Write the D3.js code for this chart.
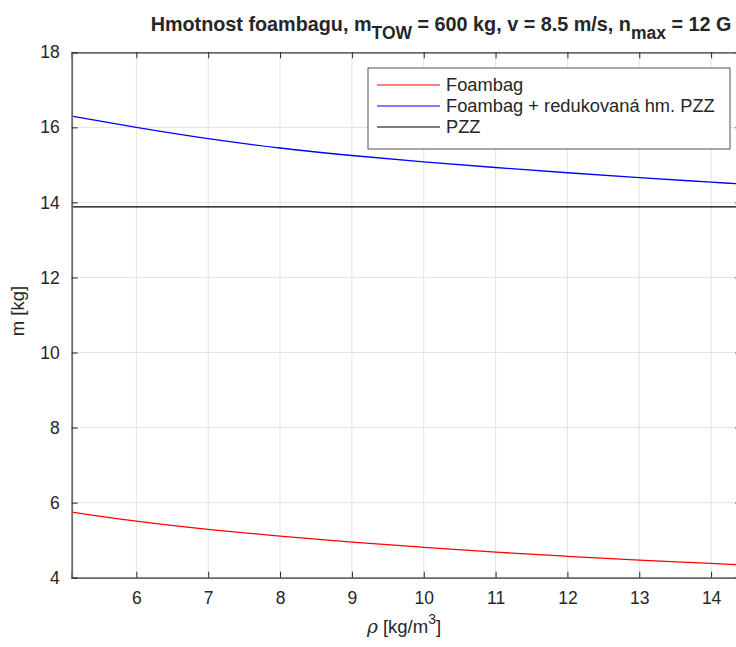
<!DOCTYPE html>
<html lang="en">
<head>
  <meta charset="UTF-8">
  <title>Hmotnost foambagu</title>
  <style>
    body {
      margin: 0;
      background: #fff;
      font-family: "Liberation Sans", Arial, sans-serif;
    }
    svg text {
      fill: #262626;
    }
  </style>
</head>
<body>
  <div id="chart"></div>

  <script src="https://d3js.org/d3.v7.min.js"></script>
  <script>
    // values
    const rho = [5.1, 6, 7, 8, 9, 10, 11, 12, 13, 14, 14.42];
    const foambag = [5.75, 5.51, 5.29, 5.11, 4.95, 4.81, 4.68, 4.57, 4.47, 4.38, 4.34];
    const foambagPzz = [16.30, 16.00, 15.70, 15.45, 15.25, 15.08, 14.93, 14.79, 14.66, 14.54, 14.49];
    const pzz = [13.88, 13.88, 13.88, 13.88, 13.88, 13.88, 13.88, 13.88, 13.88, 13.88, 13.88];
    const xTicks = [6, 7, 8, 9, 10, 11, 12, 13, 14];
    const yTicks = [4, 6, 8, 10, 12, 14, 16, 18];
    const legendNames = ["Foambag", "Foambag + redukovaná hm. PZZ", "PZZ"];
    const seriesColors = ["#ff0000", "#0000ff", "#000000"];

    const width = 736, height = 647;
    const plotLeft = 71.7, plotRight = 741.3, plotTop = 52.3, plotBottom = 577.7;

    const svg = d3.select("#chart").append("svg")
      .attr("width", width)
      .attr("height", height);

    const x = d3.scaleLinear().domain([5.1, 14.42]).range([plotLeft, plotRight]);
    const y = d3.scaleLinear().domain([4, 18]).range([plotBottom, plotTop]);

    // grid
    svg.append("g")
      .selectAll("line")
      .data(xTicks)
      .enter().append("line")
      .attr("x1", d => x(d)).attr("x2", d => x(d))
      .attr("y1", plotTop).attr("y2", plotBottom)
      .attr("stroke", "#e3e3e3");

    svg.append("g")
      .selectAll("line")
      .data(yTicks)
      .enter().append("line")
      .attr("x1", plotLeft).attr("x2", plotRight)
      .attr("y1", d => y(d)).attr("y2", d => y(d))
      .attr("stroke", "#e3e3e3");

    // series
    const series = [foambag, foambagPzz, pzz];
    const line = d3.line()
      .x((d, i) => x(rho[i]))
      .y(d => y(d))
      .curve(d3.curveMonotoneX);

    series.forEach((s, k) => {
      svg.append("path")
        .datum(s)
        .attr("d", line)
        .attr("fill", "none")
        .attr("stroke", seriesColors[k])
        .attr("stroke-width", 1.3);
    });

    // axes (ticks point inward like MATLAB)
    const axisColor = "#6b6b6b";
    const xAxis = svg.append("g")
      .attr("transform", `translate(0, ${plotBottom})`)
      .call(d3.axisBottom(x).tickValues(xTicks).tickSize(-6).tickPadding(14));
    const xTop = svg.append("g")
      .attr("transform", `translate(0, ${plotTop})`)
      .call(d3.axisTop(x).tickValues(xTicks).tickSize(-6).tickFormat(""));
    const yAxis = svg.append("g")
      .attr("transform", `translate(${plotLeft}, 0)`)
      .call(d3.axisLeft(y).tickValues(yTicks).tickSize(-6).tickPadding(12));
    const yRight = svg.append("g")
      .attr("transform", `translate(${plotRight}, 0)`)
      .call(d3.axisRight(y).tickValues(yTicks).tickSize(-6).tickFormat(""));

    [xAxis, xTop, yAxis, yRight].forEach(g => {
      g.select(".domain").attr("stroke", axisColor).attr("stroke-width", 1.8);
      g.selectAll(".tick line").attr("stroke", "#262626").attr("stroke-width", 1);
      g.selectAll(".tick text")
        .attr("font-family", "'Liberation Sans', Arial, sans-serif")
        .attr("font-size", 17.5)
        .attr("fill", "#333");
    });

    // title
    const title = svg.append("text")
      .attr("x", 441)
      .attr("y", 31)
      .attr("text-anchor", "middle")
      .attr("font-size", 19.8)
      .attr("font-weight", "bold");
    title.append("tspan").text("Hmotnost foambagu, m");
    title.append("tspan").attr("dy", 8).attr("font-size", 17.5).text("TOW");
    title.append("tspan").attr("dy", -8).text(" = 600 kg, v = 8.5 m/s, n");
    title.append("tspan").attr("dy", 8).attr("font-size", 17.5).text("max");
    title.append("tspan").attr("dy", -8).text(" = 12 G");

    // axis labels
    svg.append("text")
      .attr("transform", `translate(24, 311) rotate(-90)`)
      .attr("text-anchor", "middle")
      .attr("font-size", 18.5)
      .text("m [kg]");

    const xl = svg.append("text")
      .attr("x", 404)
      .attr("y", 633)
      .attr("text-anchor", "middle")
      .attr("font-size", 18.5);
    xl.append("tspan").attr("font-style", "italic").attr("font-family", "'DejaVu Serif', serif").text("ρ");
    xl.append("tspan").text(" [kg/m");
    xl.append("tspan").attr("dy", -9).attr("font-size", 14).text("3");
    xl.append("tspan").attr("dy", 9).text("]");

    // legend
    const lg = svg.append("g").attr("transform", "translate(368, 68)");
    lg.append("rect")
      .attr("width", 362).attr("height", 81)
      .attr("fill", "#fff")
      .attr("stroke", "#262626").attr("stroke-width", 0.8);
    legendNames.forEach((name, i) => {
      const ly = 17 + i * 21;
      lg.append("line")
        .attr("x1", 9).attr("x2", 72)
        .attr("y1", ly).attr("y2", ly)
        .attr("stroke", seriesColors[i]).attr("stroke-width", 1);
      lg.append("text")
        .attr("x", 78).attr("y", ly + 6)
        .attr("font-size", 18.3)
        .text(name);
    });
  </script>
</body>
</html>
